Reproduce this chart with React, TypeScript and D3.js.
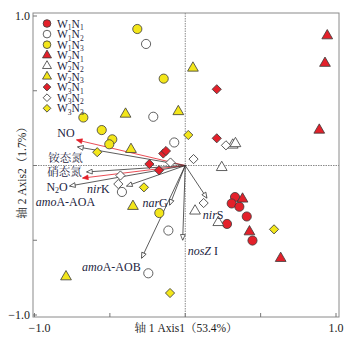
import React from "react";
import * as d3 from "d3";

// ---------- data ----------
const groups = ["W1N1", "W1N2", "W1N3", "W2N1", "W2N2", "W2N3", "W3N1", "W3N2", "W3N3"];
const groupShape = ["circle", "circle", "circle", "triangle", "triangle", "triangle", "diamond", "diamond", "diamond"];
const groupFill = ["#e3202a", "#ffffff", "#f3e61a", "#e3202a", "#ffffff", "#f3e61a", "#e3202a", "#ffffff", "#f3e61a"];

const W1N1: [number, number][] = [[0.330, -0.211], [0.308, -0.254], [0.359, -0.276], [0.408, -0.341], [0.277, -0.391], [0.446, -0.502]];
const W1N2: [number, number][] = [[-0.260, 0.813], [-0.212, 0.326], [-0.073, 0.154], [-0.420, -0.177], [-0.112, -0.435], [-0.245, -0.721]];
const W1N3: [number, number][] = [[-0.318, 0.913], [-0.143, 0.581], [-0.676, 0.321], [-0.554, 0.237], [-0.484, 0.175], [-0.504, 0.142], [-0.172, -0.318]];
const W2N1: [number, number][] = [[0.942, 0.868], [0.927, 0.684], [0.889, 0.237], [0.380, -0.224], [0.426, -0.443], [0.633, -0.621]];
const W2N2: [number, number][] = [[0.315, 0.137], [0.333, 0.147], [0.242, -0.013], [0.065, -0.304], [0.219, -0.381]];
const W2N3: [number, number][] = [[0.051, 0.652], [-0.396, 0.344], [-0.046, 0.361], [-0.360, 0.108], [-0.347, -0.273], [-0.791, -0.744]];
const W3N1: [number, number][] = [[0.209, 0.510], [0.209, 0.182], [-0.146, 0.080], [-0.128, 0.097], [-0.238, 0.010], [-0.174, -0.032]];
const W3N2: [number, number][] = [[0.270, 0.135], [0.055, 0.043], [-0.098, 0.020], [-0.430, -0.067], [-0.444, -0.124], [0.122, -0.251]];
const W3N3: [number, number][] = [[0.020, 0.204], [-0.584, 0.089], [-0.274, -0.146], [0.589, -0.427], [-0.101, -0.853]];
const groupPoints = [W1N1, W1N2, W1N3, W2N1, W2N2, W2N3, W3N1, W3N2, W3N3];

// arrows (loadings)
const arrowNames = ["NO", "铵态氮", "硝态氮", "N2O", "amoA-AOA", "nirK", "narG", "amoA-AOB", "nosZ I", "nirS"];
const arrowX = [-0.720, -0.713, -0.653, -0.680, -0.766, -0.388, -0.103, -0.289, -0.017, 0.143];
const arrowY = [0.171, 0.124, -0.043, -0.084, -0.137, -0.137, -0.264, -0.619, -0.498, -0.217];
const arrowIsRed = [true, false, false, true, false, false, false, false, false, false];
// label placement relative to arrow tip (px) and anchor
const labelDx = [-2, 5, -5, -15, -34, -17, -2, -1, 5, -4];
const labelDy = [-3, 15, 4.5, 12.5, 20.5, 7.5, 2, 13, 15, 21];
const labelAnchor = ["end", "end", "end", "end", "start", "end", "end", "end", "start", "start"];

const axisTicks = [-1, -0.5, 0, 0.5, 1];
const xTitle = "轴 1 Axis1（53.4%）";
const yTitle = "轴 2 Axis2（1.7%）";

// ---------- layout ----------
const W = 358, H = 346;
const FONT = "'Liberation Serif', 'Times New Roman', 'Noto Serif CJK SC', 'Noto Sans CJK SC', serif";
const TXT = "#1c2440";
const RED = "#e3202a";

const x = d3.scaleLinear().domain([-1, 1]).range([34.5, 336]);
const y = d3.scaleLinear().domain([-1, 1]).range([315, 16]);
const frame = { x0: 33, x1: 339, y0: 13, y1: 317 };

function symbolPath(shape: string, size: number) {
  if (shape === "circle") return d3.symbol(d3.symbolCircle, size)() as string;
  if (shape === "triangle") return d3.symbol(d3.symbolTriangle, size)() as string;
  return d3.symbol(d3.symbolSquare, size)() as string;
}

function Marker({ shape, fill, cx, cy, scale = 1 }: { shape: string; fill: string; cx: number; cy: number; scale?: number }) {
  const size = (shape === "circle" ? 66 : shape === "triangle" ? 50 : 42) * scale;
  const rot = shape === "diamond" ? 45 : 0;
  return (
    <path
      d={symbolPath(shape, size)}
      transform={`translate(${cx},${cy}) rotate(${rot})`}
      fill={fill}
      stroke="#3a3a3a"
      strokeWidth={0.8}
    />
  );
}

function GroupLabel({ name, xPos, yPos }: { name: string; xPos: number; yPos: number }) {
  const w = name[1], n = name[3];
  return (
    <text x={xPos} y={yPos} fontFamily={FONT} fontSize={11.5} fill={TXT}>
      <tspan>W</tspan>
      <tspan fontSize={7.5} dy={2.5}>{w}</tspan>
      <tspan dy={-2.5}>N</tspan>
      <tspan fontSize={7.5} dy={2.5}>{n}</tspan>
    </text>
  );
}

function ArrowLabel({ name, xPos, yPos, anchor }: { name: string; xPos: number; yPos: number; anchor: string }) {
  const isCJK = /[\u4e00-\u9fff]/.test(name);
  const common = { x: xPos, y: yPos, fontFamily: FONT, fontSize: isCJK ? 11.5 : 12, fill: TXT, textAnchor: anchor as any };
  if (name === "N2O") {
    return (
      <text {...common}>
        <tspan>N</tspan>
        <tspan fontSize={8} dy={2.5}>2</tspan>
        <tspan dy={-2.5}>O</tspan>
      </text>
    );
  }
  const m = name.match(/^(amo|nir|nar|nosZ)(.*)$/);
  if (m) {
    return (
      <text {...common}>
        <tspan fontStyle="italic">{m[1]}</tspan>
        <tspan>{m[2]}</tspan>
      </text>
    );
  }
  return <text {...common}>{name}</text>;
}

export default function App() {
  const ox = x(0), oy = y(0);
  const legendX = 47, legendTextX = 57, legendY0 = 23.5, legendStep = 10.6;
  return (
    <svg width={W} height={H} style={{ display: "block", position: "absolute", left: 0, top: 0, background: "#fff" }}>
      <defs>
        <marker id="headBlack" viewBox="0 0 10 10" refX="9" refY="5" markerWidth="8" markerHeight="6" markerUnits="userSpaceOnUse" orient="auto">
          <path d="M0,1 L9.5,5 L0,9 Z" fill="#ffffff" stroke="#333" strokeWidth={1.2} />
        </marker>
        <marker id="headRed" viewBox="0 0 10 10" refX="9" refY="5" markerWidth="8" markerHeight="6" markerUnits="userSpaceOnUse" orient="auto">
          <path d="M0,1 L9.5,5 L0,9 Z" fill={RED} stroke={RED} strokeWidth={1} />
        </marker>
      </defs>

      {/* frame */}
      <rect x={frame.x0} y={frame.y0} width={frame.x1 - frame.x0} height={frame.y1 - frame.y0} fill="none" stroke="#8a8a8a" strokeWidth={1} />

      {/* zero lines */}
      <line x1={ox} x2={ox} y1={frame.y0} y2={frame.y1} stroke="#8a8a8a" strokeWidth={1} strokeDasharray="1.5,1" />
      <line x1={frame.x0} x2={frame.x1} y1={oy} y2={oy} stroke="#8a8a8a" strokeWidth={1} strokeDasharray="1.5,1" />

      {/* ticks */}
      {axisTicks.map((t) => (
        <g key={"t" + t}>
          <line x1={x(t)} x2={x(t)} y1={frame.y1} y2={frame.y1 - 4} stroke="#777" strokeWidth={1} />
          <line x1={frame.x0} x2={frame.x0 + 4} y1={y(t)} y2={y(t)} stroke="#777" strokeWidth={1} />
        </g>
      ))}
      {/* tick labels (ends only) */}
      <text x={x(-1) + 5} y={332} fontFamily={FONT} fontSize={12} fill="#222" textAnchor="middle">−1.0</text>
      <text x={x(1)} y={332} fontFamily={FONT} fontSize={12} fill="#222" textAnchor="middle">1.0</text>
      <text x={30} y={y(1) + 4} fontFamily={FONT} fontSize={12} fill="#222" textAnchor="end">1.0</text>
      <text x={30} y={y(-1) + 4} fontFamily={FONT} fontSize={12} fill="#222" textAnchor="end">−1.0</text>

      {/* axis titles */}
      <text x={186} y={332} fontFamily={FONT} fontSize={11.5} fill="#222" textAnchor="middle">{xTitle}</text>
      <text transform={`translate(26,170) rotate(-90)`} fontFamily={FONT} fontSize={11.5} fill="#222" textAnchor="middle">{yTitle}</text>

      {/* arrows */}
      {arrowNames.map((nm, i) => (
        <line
          key={"a" + i}
          x1={ox}
          y1={oy}
          x2={x(arrowX[i])}
          y2={y(arrowY[i])}
          stroke={arrowIsRed[i] ? RED : "#333"}
          strokeWidth={0.8}
          markerEnd={arrowIsRed[i] ? "url(#headRed)" : "url(#headBlack)"}
        />
      ))}

      {/* points */}
      {groupPoints.map((pts, gi) =>
        pts.map((p, j) => (
          <Marker key={gi + "-" + j} shape={groupShape[gi]} fill={groupFill[gi]} cx={x(p[0])} cy={y(p[1])} />
        ))
      )}

      {/* arrow labels */}
      {arrowNames.map((nm, i) => (
        <ArrowLabel key={"l" + i} name={nm} xPos={x(arrowX[i]) + labelDx[i]} yPos={y(arrowY[i]) + labelDy[i]} anchor={labelAnchor[i]} />
      ))}

      {/* legend */}
      {groups.map((g, i) => (
        <g key={"lg" + i}>
          <Marker shape={groupShape[i]} fill={groupFill[i]} cx={legendX} cy={legendY0 + i * legendStep} scale={0.7} />
          <GroupLabel name={g} xPos={legendTextX} yPos={legendY0 + i * legendStep + 4} />
        </g>
      ))}
    </svg>
  );
}
